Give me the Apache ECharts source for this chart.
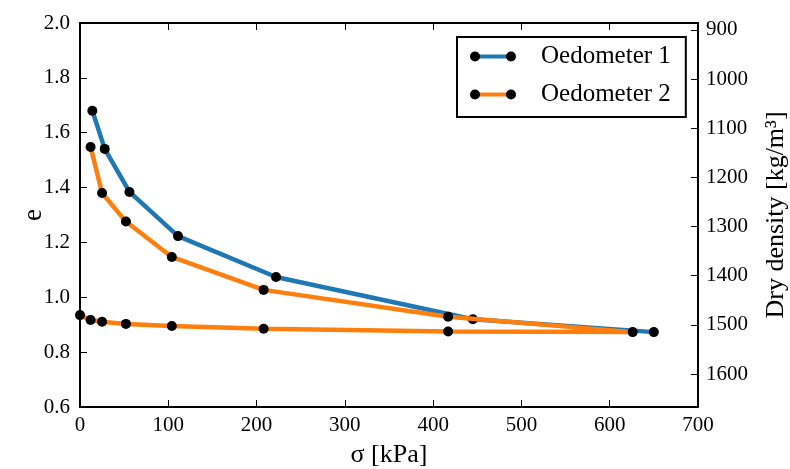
<!DOCTYPE html>
<html>
<head>
<meta charset="utf-8">
<script src="https://cdn.jsdelivr.net/npm/echarts@6/dist/echarts.min.js"></script>
<style>html,body{margin:0;padding:0;background:#fff}#c{width:790px;height:469px}</style>
</head>
<body>
<div id="c"></div>
<script>
// Oedometer 1 (loading)
const sigma1 = [14, 28, 56, 111, 222, 445, 650];
const e1 = [1.680, 1.541, 1.384, 1.223, 1.074, 0.920, 0.873];
// Oedometer 2 (loading then unloading)
const sigma2 = [12, 25, 52, 104, 208, 417, 626, 417, 208, 104, 52, 25, 12, 0];
const e2 = [1.548, 1.380, 1.276, 1.147, 1.027, 0.929, 0.873, 0.875, 0.885, 0.895, 0.903, 0.911, 0.917, 0.935];
const densityTicks = [900, 1000, 1100, 1200, 1300, 1400, 1500, 1600];
const seriesNames = ['Oedometer 1', 'Oedometer 2'];
const colors = ['#1f77b4', '#ff7f0e'];

const FONT = 'Liberation Serif';
const pairs = (xs, ys) => xs.map((x, i) => [x, ys[i]]);

const chart = echarts.init(document.getElementById('c'), null, {renderer: 'canvas'});
const lineLegendIcon = 'rect';
const dotLegendIcon = 'path://M0,5a5,5 0 1,0 10,0a5,5 0 1,0 -10,0zM36,5a5,5 0 1,0 10,0a5,5 0 1,0 -10,0z';

chart.setOption({
  animation: false,
  grid: {left: 80, right: 92, top: 23, bottom: 62, containLabel: false, outerBoundsMode: 'none'},
  legend: [
    {
      left: 457, top: 37,
      padding: [7, 15, 10, 18],
      orient: 'vertical',
      itemGap: 13,
      itemWidth: 36, itemHeight: 4,
      icon: lineLegendIcon,
      borderColor: '#000', borderWidth: 2, borderRadius: 0,
      backgroundColor: '#fff',
      textStyle: {fontFamily: FONT, fontSize: 25, color: '#000', padding: [0, 0, 0, 25]},
      data: seriesNames.map((n, i) => ({name: n, itemStyle: {color: colors[i]}})),
      selectedMode: false, z: 4
    },
    {
      left: 452, top: 37,
      padding: [7, 15, 10, 18],
      orient: 'vertical',
      itemGap: 13,
      itemWidth: 46, itemHeight: 10,
      icon: dotLegendIcon,
      symbolKeepAspect: false,
      borderWidth: 0,
      textStyle: {fontFamily: FONT, fontSize: 25, color: 'rgba(0,0,0,0)', padding: [0, 0, 0, 20]},
      data: seriesNames.map(n => ({name: n, itemStyle: {color: '#000'}})),
      selectedMode: false, z: 5
    }
  ],
  xAxis: [
    {
      type: 'value', min: 0, max: 700, interval: 100, position: 'bottom',
      name: 'σ [kPa]', nameLocation: 'middle', nameGap: 35, nameMoveOverlap: false,
      nameTextStyle: {fontFamily: FONT, fontSize: 26, color: '#000'},
      axisLine: {show: true, onZero: false, lineStyle: {color: '#000', width: 2}},
      axisTick: {show: true, inside: true, length: 7, lineStyle: {color: '#000', width: 1}},
      axisLabel: {fontFamily: FONT, fontSize: 21, color: '#000', margin: 8},
      splitLine: {show: false}
    },
    {
      type: 'value', min: 0, max: 700, interval: 100, position: 'top',
      axisLine: {show: true, onZero: false, lineStyle: {color: '#000', width: 2}},
      axisTick: {show: true, inside: true, length: 7, lineStyle: {color: '#000', width: 1}},
      axisLabel: {show: false},
      splitLine: {show: false}
    }
  ],
  yAxis: [
    {
      type: 'value', min: 0.6, max: 2.0, interval: 0.2, position: 'left',
      name: 'e', nameLocation: 'middle', nameGap: 33, nameRotate: 90, nameMoveOverlap: false,
      nameTextStyle: {fontFamily: FONT, fontSize: 27, color: '#000'},
      axisLine: {show: true, onZero: false, lineStyle: {color: '#000', width: 2}},
      axisTick: {show: true, inside: true, length: 7, lineStyle: {color: '#000', width: 1}},
      axisLabel: {fontFamily: FONT, fontSize: 21, color: '#000', margin: 10, formatter: v => v.toFixed(1)},
      splitLine: {show: false}
    },
    {
      type: 'value', min: 886, max: 1667, inverse: true, position: 'right',
      alignTicks: false,
      name: 'Dry density [kg/m³]', nameLocation: 'middle', nameGap: 65, nameRotate: 90, nameMoveOverlap: false,
      nameTextStyle: {fontFamily: FONT, fontSize: 26, color: '#000'},
      axisLine: {show: true, onZero: false, lineStyle: {color: '#000', width: 2}},
      axisTick: {show: true, inside: true, length: 7, customValues: densityTicks, lineStyle: {color: '#000', width: 1}},
      axisLabel: {fontFamily: FONT, fontSize: 21, color: '#000', margin: 8, customValues: densityTicks, formatter: v => String(v)},
      splitLine: {show: false}
    }
  ],
  series: [
    {
      name: seriesNames[0], type: 'line', xAxisIndex: 0, yAxisIndex: 0,
      data: pairs(sigma1, e1),
      symbol: 'circle', symbolSize: 10, showSymbol: true,
      lineStyle: {color: colors[0], width: 4.5},
      itemStyle: {color: '#000'},
      z: 2
    },
    {
      name: seriesNames[1], type: 'line', xAxisIndex: 0, yAxisIndex: 0,
      data: pairs(sigma2, e2),
      symbol: 'circle', symbolSize: 10, showSymbol: true,
      lineStyle: {color: colors[1], width: 4.5},
      itemStyle: {color: '#000'},
      z: 3
    }
  ]
});
</script>
</body>
</html>
